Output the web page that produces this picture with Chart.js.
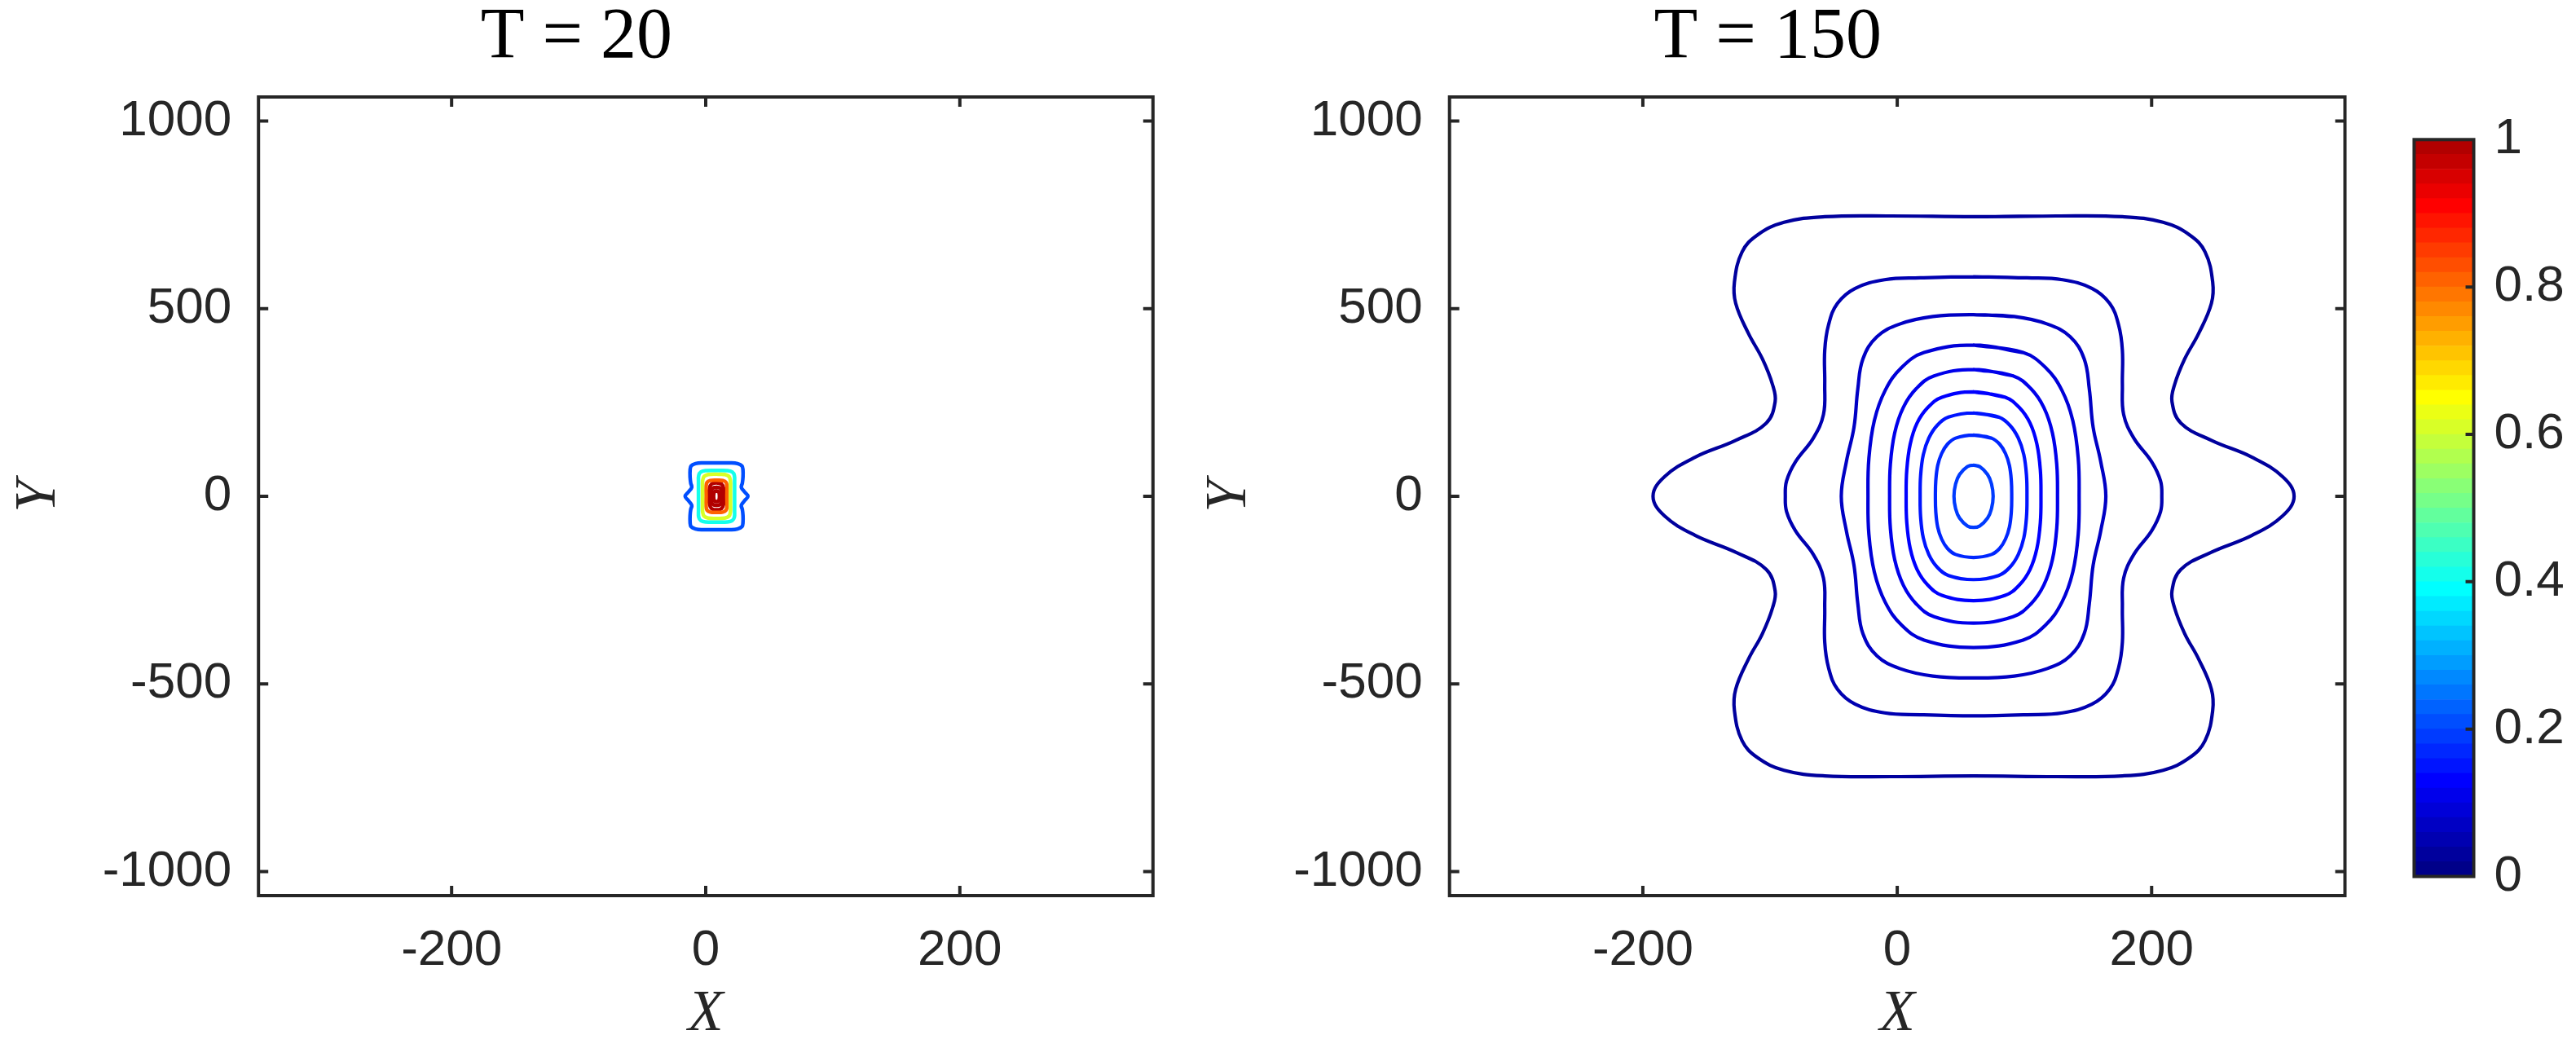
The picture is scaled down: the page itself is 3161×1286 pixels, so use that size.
<!DOCTYPE html>
<html>
<head>
<meta charset="utf-8">
<title>T = 20 / T = 150</title>
<script src="https://cdn.jsdelivr.net/npm/chart.js@4.4.1/dist/chart.umd.min.js"></script>
<style>
  html, body { margin: 0; padding: 0; background: #fff; }
  #wrap { position: relative; width: 3161px; height: 1286px; overflow: hidden; }
  canvas { position: absolute; top: 0; }
</style>
</head>
<body>
<div id="wrap">
  <canvas id="plotT20" width="1461" height="1286" style="left:0px"></canvas>
  <canvas id="plotT150" width="1461" height="1286" style="left:1461px"></canvas>
  <canvas id="cbar" width="239" height="1286" style="left:2922px"></canvas>
</div>
<script>
// Axes
const xRange = [-352, 352];
const yRange = [-1064, 1064];
const xTicks = [-200, 0, 200];
const yTicks = [-1000, -500, 0, 500, 1000];
const cbarTicks = [0, 0.2, 0.4, 0.6, 0.8, 1];
const cbarColors = 50;

// T = 20 : contour levels and lines (x, y)
const t20Levels = [0.2, 0.4, 0.6, 0.8, 1.0, 1.2, 1.4];
const t20Contour1 = [[8.5,89],[19.5,89],[25,87],[28.5,81],[29.3,70],[29.3,50],[28.8,35],[28,24],[30.5,12],[33.2,0],
  [30.5,-12],[28,-24],[28.8,-35],[29.3,-50],[29.3,-70],[28.5,-81],[25,-87],[19.5,-89],[8.5,-89],
  [-2.5,-89],[-8,-87],[-11.5,-81],[-12.3,-70],[-12.3,-50],[-11.8,-35],[-11,-24],[-13.5,-12],[-16.2,0],
  [-13.5,12],[-11,24],[-11.8,35],[-12.3,50],[-12.3,70],[-11.5,81],[-8,87],[-2.5,89],[8.5,89],[19.5,89]];
const t20Contour2 = [[8.5,69],[17,68.5],[20.8,65],[22.5,56],[22.7,38],[22.7,0],[22.7,-38],[22.5,-56],[20.8,-65],[17,-68.5],
  [8.5,-69],[0,-68.5],[-3.8,-65],[-5.5,-56],[-5.7,-38],[-5.7,0],[-5.7,38],[-5.5,56],[-3.8,65],[0,68.5],[8.5,69],[17,68.5]];
const t20Contour3 = [[8.5,59],[15,58],[18.3,53],[19.4,42],[19.5,20],[19.5,0],[19.5,-20],[19.4,-42],[18.3,-53],[15,-58],
  [8.5,-59],[2,-58],[-1.3,-53],[-2.4,-42],[-2.5,-20],[-2.5,0],[-2.5,20],[-2.4,42],[-1.3,53],[2,58],[8.5,59],[15,58]];
const t20Contour4 = [[8.5,43],[13.5,42],[16,37],[16.7,26],[16.7,0],[16.7,-26],[16,-37],[13.5,-42],
  [8.5,-43],[3.5,-42],[1,-37],[0.3,-26],[0.3,0],[0.3,26],[1,37],[3.5,42],[8.5,43],[13.5,42]];
const t20Contour5 = [[8.5,36],[12.3,33],[14,22],[14.4,0],[14,-22],[12.3,-33],[8.5,-36],
  [4.7,-33],[3,-22],[2.6,0],[3,22],[4.7,33],[8.5,36],[12.3,33]];
const t20Contour6 = [[8.5,24],[11.3,22],[12.5,14],[12.8,0],[12.5,-14],[11.3,-22],[8.5,-24],
  [5.7,-22],[4.5,-14],[4.2,0],[4.5,14],[5.7,22],[8.5,24],[11.3,22]];
const t20Contour7 = [[8.5,14],[10,12.5],[10.6,7.5],[10.8,0],[10.6,-7.5],[10,-12.5],[8.5,-14],
  [7,-12.5],[6.4,-7.5],[6.2,0],[6.4,7.5],[7,12.5],[8.5,14],[10,12.5]];

// T = 150 : contour levels and lines (x, y)
const t150Levels = [0.02, 0.04, 0.06, 0.08, 0.10, 0.12, 0.14, 0.16, 0.18];
const t150Contour1 = [[60,745],[125,747],[177,745],[209,730],[230,696],[242,651],[248,571],[247,514],[237,434],[226,366],
  [218,297],[216,252],[223,195],[247,149],[279,104],[303,52],[312,0],
  [303,-52],[279,-104],[247,-149],[223,-195],[216,-252],[218,-297],[226,-366],[237,-434],[247,-514],[248,-571],
  [242,-651],[230,-696],[209,-730],[177,-745],[125,-747],[60,-745],
  [-5,-747],[-57,-745],[-89,-730],[-110,-696],[-122,-651],[-128,-571],[-127,-514],[-117,-434],[-106,-366],
  [-98,-297],[-96,-252],[-103,-195],[-127,-149],[-159,-104],[-183,-52],[-192,0],
  [-183,52],[-159,104],[-127,149],[-103,195],[-96,252],[-98,297],[-106,366],[-117,434],[-127,514],[-128,571],
  [-122,651],[-110,696],[-89,730],[-57,745],[-5,747],[60,745],[125,747]];
const t150Contour2 = [[60,585],[102,582],[130,577],[153,554],[167,514],[174,457],[177,389],[177,297],[178,218],[186,155],
  [200,92],[207,41],[208,0],[207,-41],[200,-92],[186,-155],[178,-218],[177,-297],[177,-389],[174,-457],[167,-514],
  [153,-554],[130,-577],[102,-582],[60,-585],
  [18,-582],[-10,-577],[-33,-554],[-47,-514],[-54,-457],[-57,-389],[-57,-297],[-58,-218],[-66,-155],[-80,-92],
  [-87,-41],[-88,0],[-87,41],[-80,92],[-66,155],[-58,218],[-57,297],[-57,389],[-54,457],[-47,514],[-33,554],
  [-10,577],[18,582],[60,585],[102,582]];
const t150Contour3 = [[60,484],[92,479],[118,459],[136,425],[147,366],[151,286],[154,184],[160,92],[164,0],
  [160,-92],[154,-184],[151,-286],[147,-366],[136,-425],[118,-459],[92,-479],[60,-484],
  [28,-479],[2,-459],[-16,-425],[-27,-366],[-31,-286],[-34,-184],[-40,-92],[-44,0],
  [-40,92],[-34,184],[-31,286],[-27,366],[-16,425],[2,459],[28,479],[60,484],[92,479]];
const t150Contour4 = [[60,403],[98.9,383],[116.6,343],[129.5,282],[138,202],[142.3,101],[143,0],
  [142.3,-101],[138,-202],[129.5,-282],[116.6,-343],[98.9,-383],[60,-403],
  [21.1,-383],[3.4,-343],[-9.5,-282],[-18,-202],[-22.3,-101],[-23,0],
  [-22.3,101],[-18,202],[-9.5,282],[3.4,343],[21.1,383],[60,403],[98.9,383]];
const t150Contour5 = [[60,338],[91,321],[105,287],[115.2,237],[122,169],[125.4,85],[126,0],
  [125.4,-85],[122,-169],[115.2,-237],[105,-287],[91,-321],[60,-338],
  [29,-321],[15,-287],[4.8,-237],[-2,-169],[-5.4,-85],[-6,0],
  [-5.4,85],[-2,169],[4.8,237],[15,287],[29,321],[60,338],[91,321]];
const t150Contour6 = [[60,278],[84.9,264],[96.1,236],[104.4,195],[109.8,139],[112.5,70],[113,0],
  [112.5,-70],[109.8,-139],[104.4,-195],[96.1,-236],[84.9,-264],[60,-278],
  [35.1,-264],[23.9,-236],[15.6,-195],[10.2,-139],[7.5,-70],[7,0],
  [7.5,70],[10.2,139],[15.6,195],[23.9,236],[35.1,264],[60,278],[84.9,264]];
const t150Contour7 = [[60,222],[79.7,211],[88.6,189],[95.2,155],[99.5,111],[101.6,56],[102,0],
  [101.6,-56],[99.5,-111],[95.2,-155],[88.6,-189],[79.7,-211],[60,-222],
  [40.3,-211],[31.4,-189],[24.8,-155],[20.5,-111],[18.4,-56],[18,0],
  [18.4,56],[20.5,111],[24.8,155],[31.4,189],[40.3,211],[60,222],[79.7,211]];
const t150Contour8 = [[60,163],[74.1,155],[80.5,139],[85.1,114],[88.2,82],[89.7,41],[90,0],
  [89.7,-41],[88.2,-82],[85.1,-114],[80.5,-139],[74.1,-155],[60,-163],
  [45.9,-155],[39.5,-139],[34.9,-114],[31.8,-82],[30.3,-41],[30,0],
  [30.3,41],[31.8,82],[34.9,114],[39.5,139],[45.9,155],[60,163],[74.1,155]];
const t150Contour9 = [[60,83],[64.8,79],[71,58],[74.1,33],[75.4,0],[74.1,-33],[71,-58],[64.8,-79],[60,-83],
  [55.2,-79],[49,-58],[45.9,-33],[44.6,0],[45.9,33],[49,58],[55.2,79],[60,83],[64.8,79]];

const t20Contours = [t20Contour1, t20Contour2, t20Contour3, t20Contour4, t20Contour5, t20Contour6, t20Contour7];
const t150Contours = [t150Contour1, t150Contour2, t150Contour3, t150Contour4, t150Contour5,
  t150Contour6, t150Contour7, t150Contour8, t150Contour9];

const INK = '#262626';
const SANS = "'Liberation Sans', Arial, Helvetica, sans-serif";
const SERIF = "'Liberation Serif', 'Times New Roman', serif";

// MATLAB style jet colormap
function jet(m) {
    const n = Math.ceil(m / 4);
    const u = [];
    for (let i = 1; i <= n; i++) u.push(i / n);
    for (let i = 1; i < n; i++) u.push(1);
    for (let i = n; i >= 1; i--) u.push(i / n);
    const g0 = Math.ceil(n / 2) - (m % 4 === 1 ? 1 : 0);
    const map = Array.from({ length: m }, () => [0, 0, 0]);
    u.forEach((v, k) => {
        const gi = g0 + k + 1, ri = gi + n, bi = gi - n;
        if (ri >= 1 && ri <= m) map[ri - 1][0] = v;
        if (gi >= 1 && gi <= m) map[gi - 1][1] = v;
        if (bi >= 1 && bi <= m) map[bi - 1][2] = v;
    });
    return map.map(c => `rgb(${Math.round(c[0] * 255)},${Math.round(c[1] * 255)},${Math.round(c[2] * 255)})`);
}
const jetMap = jet(cbarColors);
const levelColor = v => jetMap[Math.min(cbarColors, Math.floor(v * cbarColors + 1e-6) + 1) - 1];

// box + inward ticks, like a MATLAB axes
const frame = {
    id: 'frame',
    afterDatasetsDraw(chart, args, opts) {
        const { ctx, chartArea: a } = chart;
        const len = opts.tickLength;
        ctx.save();
        ctx.strokeStyle = INK;
        ctx.lineWidth = opts.width;
        ctx.beginPath();
        if (opts.xTicks) {
            chart.scales.x.ticks.forEach(t => {
                const p = chart.scales.x.getPixelForValue(t.value);
                if (p <= a.left + 1 || p >= a.right - 1) return;
                ctx.moveTo(p, a.bottom); ctx.lineTo(p, a.bottom - len);
                ctx.moveTo(p, a.top); ctx.lineTo(p, a.top + len);
            });
        }
        chart.scales.y.ticks.forEach(t => {
            const p = chart.scales.y.getPixelForValue(t.value);
            if (p <= a.top + 1 || p >= a.bottom - 1) return;
            if (opts.leftTicks) { ctx.moveTo(a.left, p); ctx.lineTo(a.left + len, p); }
            ctx.moveTo(a.right, p); ctx.lineTo(a.right - len, p);
        });
        ctx.stroke();
        ctx.strokeRect(a.left, a.top, a.right - a.left, a.bottom - a.top);
        ctx.restore();
    }
};

function renderContourPlot(id, title, contours, levels, yWidth, rightPad, lineWidth) {
    const ctx = document.getElementById(id);
    return new Chart(ctx, {
        type: 'scatter',
        data: {
            datasets: contours.map((pts, i) => ({
                label: 'level ' + levels[i],
                data: pts.map(([x, y]) => ({ x, y })),
                showLine: true,
                borderColor: levelColor(levels[i]),
                borderWidth: lineWidth,
                borderCapStyle: 'round',
                borderJoinStyle: 'round',
                pointRadius: 0,
                tension: 0.4,
                fill: false
            }))
        },
        options: {
            responsive: false,
            animation: false,
            events: [],
            layout: { padding: { left: 0, right: rightPad, top: 0, bottom: 0 } },
            scales: {
                x: {
                    type: 'linear',
                    min: xRange[0],
                    max: xRange[1],
                    afterBuildTicks: s => { s.ticks = xTicks.map(v => ({ value: v })); },
                    afterFit: s => { s.height = 187; },
                    grid: { display: false, drawTicks: false },
                    border: { display: false },
                    ticks: {
                        color: INK,
                        padding: 31,
                        font: { family: SANS, size: 62, lineHeight: 1.2 },
                        callback: v => String(v)
                    },
                    title: {
                        display: true,
                        text: 'X',
                        color: INK,
                        font: { family: SERIF, size: 71, style: 'italic', lineHeight: 1 },
                        padding: { top: 0, bottom: 5 }
                    }
                },
                y: {
                    type: 'linear',
                    min: yRange[0],
                    max: yRange[1],
                    afterBuildTicks: s => { s.ticks = yTicks.map(v => ({ value: v })); },
                    afterFit: s => { s.width = yWidth; },
                    grid: { display: false, drawTicks: false },
                    border: { display: false },
                    ticks: {
                        color: INK,
                        padding: 33,
                        font: { family: SANS, size: 62, lineHeight: 1.2 },
                        callback: v => String(v)
                    },
                    title: {
                        display: true,
                        text: 'Y',
                        color: INK,
                        font: { family: SERIF, size: 71, style: 'italic', lineHeight: 1 },
                        padding: { top: 13, bottom: 0 }
                    }
                }
            },
            plugins: {
                legend: { display: false },
                tooltip: { enabled: false },
                title: {
                    display: true,
                    text: title,
                    color: '#000',
                    font: { family: SERIF, size: 88, weight: 'normal', lineHeight: 1 },
                    padding: { top: 3, bottom: 28 }
                },
                frame: { width: 4, tickLength: 12, xTicks: true, leftTicks: true }
            }
        },
        plugins: [frame]
    });
}

function renderColorbar() {
    const step = 1 / cbarColors;
    return new Chart(document.getElementById('cbar'), {
        type: 'bar',
        data: {
            labels: [''],
            datasets: jetMap.map((c, i) => ({
                label: 'band ' + i,
                data: [step],
                backgroundColor: c,
                borderWidth: 0,
                barPercentage: 1,
                categoryPercentage: 1
            }))
        },
        options: {
            responsive: false,
            animation: false,
            events: [],
            layout: { padding: { left: 40.4, right: 0, top: 171.3, bottom: 210.5 } },
            scales: {
                x: { stacked: true, display: false },
                y: {
                    stacked: true,
                    position: 'right',
                    min: 0,
                    max: 1,
                    afterBuildTicks: s => { s.ticks = cbarTicks.map(v => ({ value: v })); },
                    afterFit: s => { s.width = 125.5; },
                    grid: { display: false, drawTicks: false },
                    border: { display: false },
                    ticks: {
                        color: INK,
                        padding: 25,
                        font: { family: SANS, size: 62, lineHeight: 1.2 },
                        callback: v => String(v)
                    }
                }
            },
            plugins: {
                legend: { display: false },
                tooltip: { enabled: false },
                frame: { width: 4, tickLength: 10, xTicks: false, leftTicks: false }
            }
        },
        plugins: [frame]
    });
}

renderContourPlot('plotT20', 'T = 20', t20Contours, t20Levels, 317.2, 46.2, 4.5);
renderContourPlot('plotT150', 'T = 150', t150Contours, t150Levels, 317.7, 44.5, 4.2);
renderColorbar();
</script>
</body>
</html>
